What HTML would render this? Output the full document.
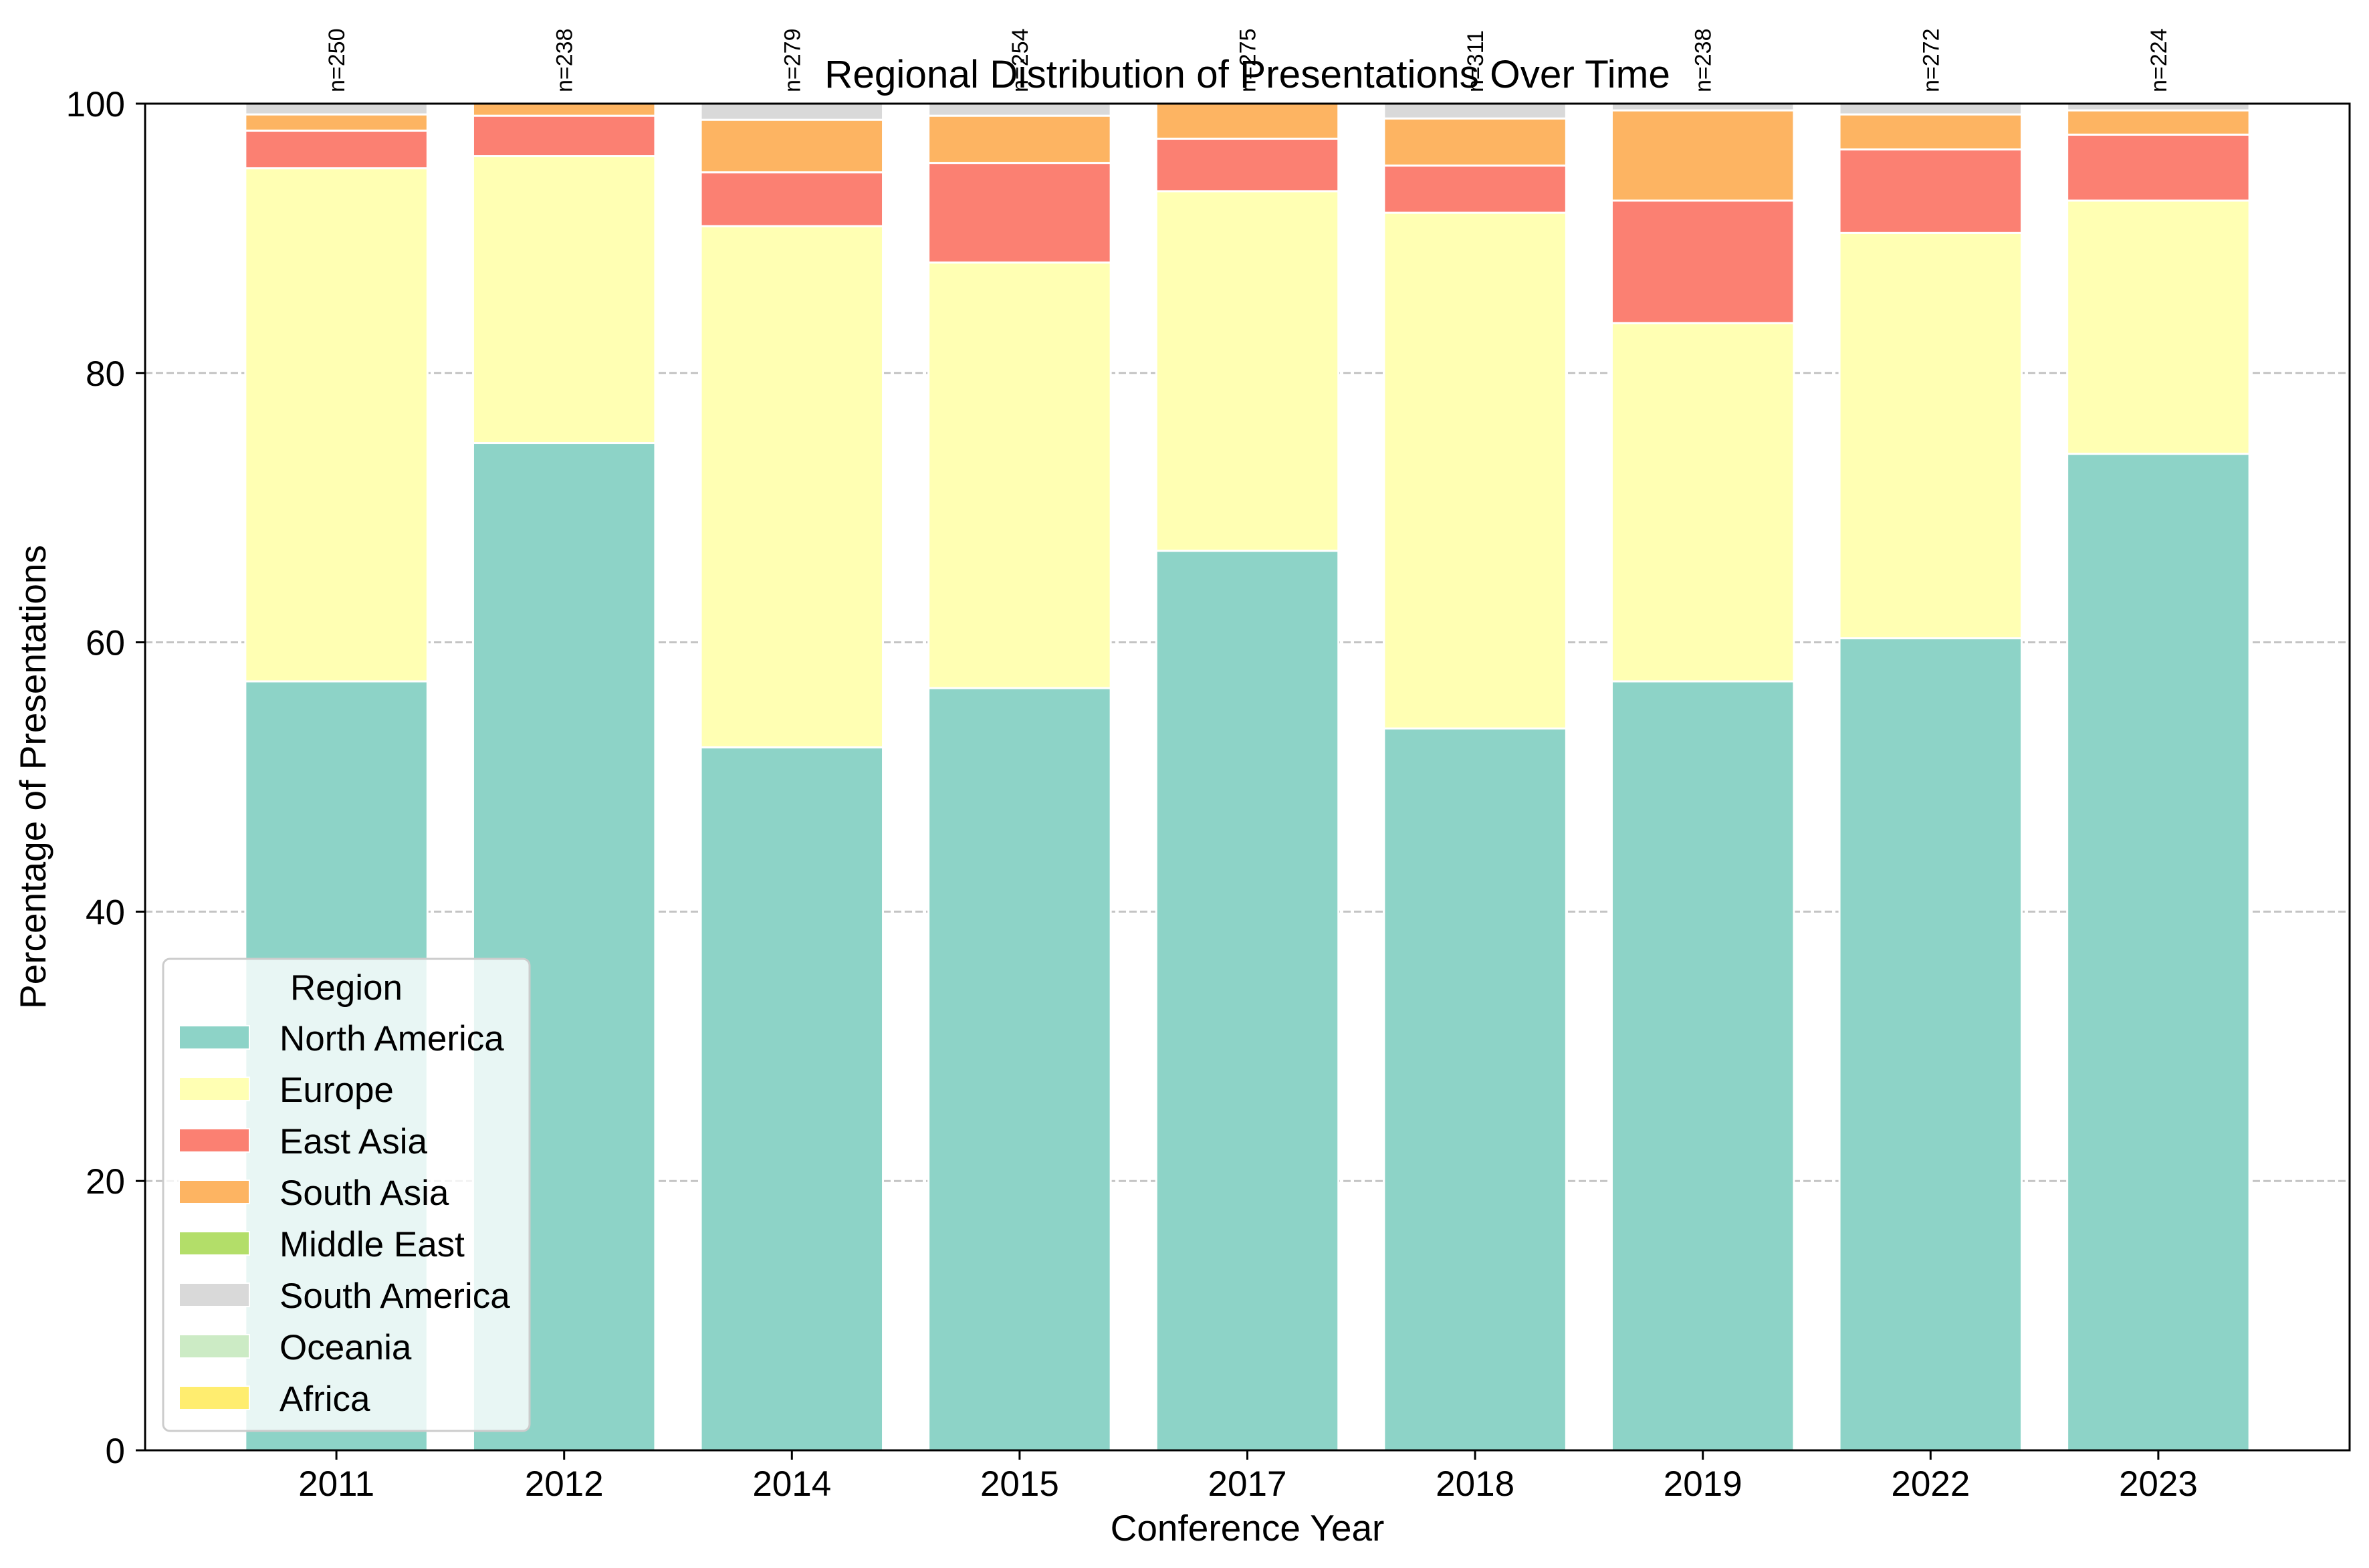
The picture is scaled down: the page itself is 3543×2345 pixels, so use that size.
<!DOCTYPE html>
<html><head><meta charset="utf-8"><style>
html,body{margin:0;padding:0;background:#fff;}
svg{display:block;font-family:"Liberation Sans",Arial,sans-serif;}
</style></head><body>
<svg id="chart" xmlns="http://www.w3.org/2000/svg" width="3543" height="2345" viewBox="0 0 3543 2345">
<rect width="3543" height="2345" fill="#fff"/>
<g id="grid"></g>
<g id="bars"></g>
<g id="axes"></g>
<g id="legend"></g>
<g id="labels"></g>
</svg>
<script>
const years = ["2011","2012","2014","2015","2017","2018","2019","2022","2023"];
const counts = [250,238,279,254,275,311,238,272,224];
const regions = ["North America","Europe","East Asia","South Asia","Middle East","South America","Oceania","Africa"];
const colors = ["#8dd3c7","#ffffb3","#fb8072","#fdb462","#b3de69","#d9d9d9","#ccebc5","#ffed6f"];
const northAmerica = [57.1,74.8,52.2,56.6,66.8,53.6,57.1,60.3,74.0];
const europe = [38.1,21.3,38.7,31.6,26.7,38.3,26.6,30.1,18.8];
const eastAsia = [2.8,3.0,4.0,7.4,3.9,3.5,9.1,6.2,4.9];
const southAsia = [1.2,0.9,3.9,3.5,2.6,3.5,6.7,2.6,1.8];
const middleEast = [0,0,0,0,0,0,0,0,0];
const southAmerica = [0.8,0,1.2,0.9,0,1.1,0.5,0.8,0.5];
const oceania = [0,0,0,0,0,0,0,0,0];
const africa = [0,0,0,0,0,0,0,0,0];
const yTicks = [0,20,40,60,80,100];

const series = [northAmerica,europe,eastAsia,southAsia,middleEast,southAmerica,oceania,africa];
const NS="http://www.w3.org/2000/svg";
const L=217,R=3514,T=155,B=2169;
const xmin=-0.84,xmax=years.length-1+0.84;
function xs(i){return L+(i-xmin)/(xmax-xmin)*(R-L);}
function ys(v){return B-(v/100)*(B-T);}
const bw=0.8*(xs(1)-xs(0));
function mk(tag,attrs,parent){const e=document.createElementNS(NS,tag);for(const k in attrs)e.setAttribute(k,attrs[k]);parent.appendChild(e);return e;}
const grid=document.getElementById('grid'),bars=document.getElementById('bars'),axes=document.getElementById('axes'),legend=document.getElementById('legend'),labels=document.getElementById('labels');

yTicks.forEach(v=>{
  if(v>0&&v<100){const g=mk('line',{x1:L,x2:R,y1:ys(v),y2:ys(v),stroke:'#c4c4c4','stroke-width':3,'stroke-dasharray':'11,5'},grid);
  
  }
});

years.forEach((yr,i)=>{
  let base=0;
  series.forEach((s,k)=>{
    const v=s[i];
    if(v>0){
      const r=mk('rect',{x:xs(i)-bw/2,y:ys(base+v),width:bw,height:ys(base)-ys(base+v),fill:colors[k],stroke:'#fff','stroke-width':3},bars);
      
      
    }
    base+=v;
  });
  const t=mk('text',{x:0,y:0,'font-size':34,'text-anchor':'start',transform:'translate('+(xs(i)+12)+',138) rotate(-90)'},labels);
  t.textContent='n='+counts[i];
  
  
  const tk=mk('line',{x1:xs(i),x2:xs(i),y1:B,y2:B+14,stroke:'#000','stroke-width':3},axes);
  
  
  const tl=mk('text',{x:xs(i),y:B+68,'font-size':53,'text-anchor':'middle'},axes);
  tl.textContent=yr;
  
  
});

yTicks.forEach(v=>{
  const tk=mk('line',{x1:L-14,x2:L,y1:ys(v),y2:ys(v),stroke:'#000','stroke-width':3},axes);
  
  
  const tl=mk('text',{x:L-30,y:ys(v)+19,'font-size':53,'text-anchor':'end'},axes);
  tl.textContent=v;
  
  
});
const frame=mk('rect',{x:L,y:T,width:R-L,height:B-T,fill:'none',stroke:'#000','stroke-width':3},axes);



const xl=mk('text',{x:(L+R)/2,y:2304,'font-size':55,'text-anchor':'middle'},labels);
xl.textContent='Conference Year';


const yl=mk('text',{x:0,y:0,'font-size':55,'text-anchor':'middle',transform:'translate(68,1162) rotate(-90)'},labels);
yl.textContent='Percentage of Presentations';


const ti=mk('text',{x:(L+R)/2,y:131,'font-size':58.5,'text-anchor':'middle'},labels);
ti.textContent='Regional Distribution of Presentations Over Time';



const lb=mk('rect',{x:244,y:1434,width:548,height:706,rx:10,fill:'#fff','fill-opacity':0.8,stroke:'#cccccc','stroke-width':3},legend);


const lt=mk('text',{x:518,y:1495,'font-size':53,'text-anchor':'middle'},legend);
lt.textContent='Region';


regions.forEach((r,k)=>{
  const cy=1552+k*77;
  const g=mk('g',{},legend);
  
  
  mk('rect',{x:268,y:cy-18,width:105,height:35,fill:colors[k],stroke:'#fff','stroke-width':2},g);
  const t=mk('text',{x:418,y:cy+19,'font-size':53},g);
  t.textContent=r;
});
</script>
</body></html>
